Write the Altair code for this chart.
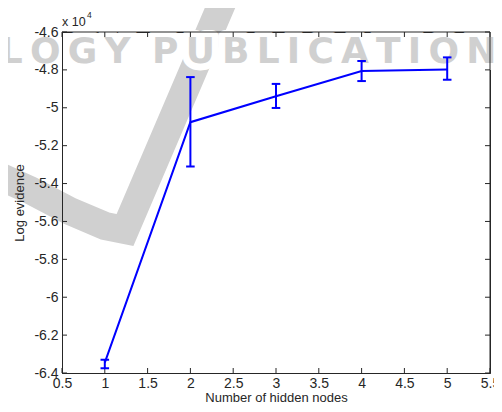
import altair as alt
import pandas as pd

# ---- data (values in units of 10^4) ----
nodes = [1, 2, 3, 4, 5]
log_evidence = [-6.345, -5.076, -4.939, -4.806, -4.798]
err_low = [-6.375, -5.310, -5.001, -4.859, -4.852]
err_high = [-6.330, -4.838, -4.874, -4.753, -4.734]

x_ticks = [0.5, 1, 1.5, 2, 2.5, 3, 3.5, 4, 4.5, 5, 5.5]
y_ticks = [-6.4, -6.2, -6, -5.8, -5.6, -5.4, -5.2, -5, -4.8, -4.6]

# watermark swoosh path (data units) and watermark text
wm_x = [-0.341, 0.126, 0.593, 1.002, 1.236, 2.486]
wm_y = [-5.339, -5.434, -5.545, -5.624, -5.645, -4.325]
wm_text = "\u2009".join(list("OLOGY")) + "\u2009\u2009\u2009" + "\u2009".join(list("PUBLICATIONS"))

W, H = 428, 341
AX = "#262626"
BLUE = "#0000ff"
FONT = "Liberation Sans"
WM = "#d0d0d0"

df = pd.DataFrame({"n": nodes, "m": log_evidence, "lo": err_low, "hi": err_high})
wm = pd.DataFrame({"x": wm_x, "y": wm_y, "i": list(range(len(wm_x)))})
xt = pd.DataFrame({"v": x_ticks})
yt = pd.DataFrame({"v": y_ticks})
one = pd.DataFrame({"k": [0]})

xs = alt.Scale(domain=[0.5, 5.5], nice=False, zero=False)
ys = alt.Scale(domain=[-6.4, -4.6], nice=False, zero=False)
x_axis = alt.Axis(values=x_ticks, title="Number of hidden nodes",
                  labelExpr="'' + datum.value", labelPadding=3, titlePadding=1, zindex=1)
y_axis = alt.Axis(values=y_ticks, title="Log evidence",
                  labelExpr="'' + datum.value", labelPadding=4, titlePadding=7, zindex=1)


def X(f):
    return alt.X(f, scale=xs, axis=x_axis)


def Y(f):
    return alt.Y(f, scale=ys, axis=y_axis)


swoosh = alt.Chart(wm).mark_line(color=WM, strokeWidth=28, clip=False,
                                  strokeJoin="miter").encode(
    x=X("x:Q"), y=Y("y:Q"), order="i:Q")

wm_df = pd.DataFrame({"t": [wm_text]})
halo = alt.Chart(wm_df).mark_text(font="DejaVu Sans", fontWeight="bold", fontSize=36,
                                  align="left", baseline="alphabetic", fill="white",
                                  stroke="white", strokeWidth=14, strokeJoin="round").encode(
    text="t:N", x=alt.value(-100), y=alt.value(31))
wmtext = alt.Chart(wm_df).mark_text(font="DejaVu Sans", fontWeight="bold", fontSize=36,
                                    align="left", baseline="alphabetic", color=WM).encode(
    text="t:N", x=alt.value(-100), y=alt.value(31))

border_top = alt.Chart(one).mark_rule(color=AX, strokeWidth=1).encode(
    x=alt.value(0), x2=alt.value(W), y=alt.value(0))
border_right = alt.Chart(one).mark_rule(color=AX, strokeWidth=1).encode(
    x=alt.value(W), y=alt.value(0), y2=alt.value(H))

tick_x_bottom = alt.Chart(xt).mark_rule(color=AX, strokeWidth=1).encode(
    x=X("v:Q"), y=alt.value(H), y2=alt.value(H - 5))
tick_x_top = alt.Chart(xt).mark_rule(color=AX, strokeWidth=1).encode(
    x=X("v:Q"), y=alt.value(0), y2=alt.value(5))
tick_y_left = alt.Chart(yt).mark_rule(color=AX, strokeWidth=1).encode(
    y=Y("v:Q"), x=alt.value(0), x2=alt.value(5))
tick_y_right = alt.Chart(yt).mark_rule(color=AX, strokeWidth=1).encode(
    y=Y("v:Q"), x=alt.value(W), x2=alt.value(W - 5))

base = alt.Chart(df)
errbar = base.mark_rule(color=BLUE, strokeWidth=2).encode(
    x=X("n:Q"), y=Y("lo:Q"), y2="hi:Q")
caps_lo = base.transform_calculate(a="datum.n - 0.05", b="datum.n + 0.05").mark_rule(
    color=BLUE, strokeWidth=2).encode(x=X("a:Q"), x2="b:Q", y=Y("lo:Q"))
caps_hi = base.transform_calculate(a="datum.n - 0.05", b="datum.n + 0.05").mark_rule(
    color=BLUE, strokeWidth=2).encode(x=X("a:Q"), x2="b:Q", y=Y("hi:Q"))

line = base.mark_line(color=BLUE, strokeWidth=2).encode(x=X("n:Q"), y=Y("m:Q"))

sci = alt.Chart(pd.DataFrame({"t": ["x 10"]})).mark_text(
    font=FONT, fontSize=12.5, align="left", baseline="alphabetic", color=AX).encode(
    text="t:N", x=alt.value(0), y=alt.value(-6))
sci_exp = alt.Chart(pd.DataFrame({"t": ["4"]})).mark_text(
    font=FONT, fontSize=8.5, align="left", baseline="alphabetic", color=AX).encode(
    text="t:N", x=alt.value(25), y=alt.value(-14))

chart = alt.layer(
    swoosh, halo, wmtext, border_top, border_right,
    tick_x_bottom, tick_x_top, tick_y_left, tick_y_right,
    errbar, caps_lo, caps_hi, line, sci, sci_exp,
).properties(
    width=W, height=H,
    autosize=alt.AutoSizeParams(type="none"),
    padding={"left": 54, "top": 24, "right": 4, "bottom": 31},
).configure_axis(
    labelFont=FONT, labelFontSize=14, labelColor=AX,
    titleFont=FONT, titleFontSize=13, titleFontWeight="normal", titleColor=AX,
    domainColor=AX, domainWidth=1, ticks=False, grid=False, labelFlush=False,
).configure_view(stroke=AX, strokeWidth=1)

chart.save("out.html", embed_options={"renderer": "svg", "actions": False})
